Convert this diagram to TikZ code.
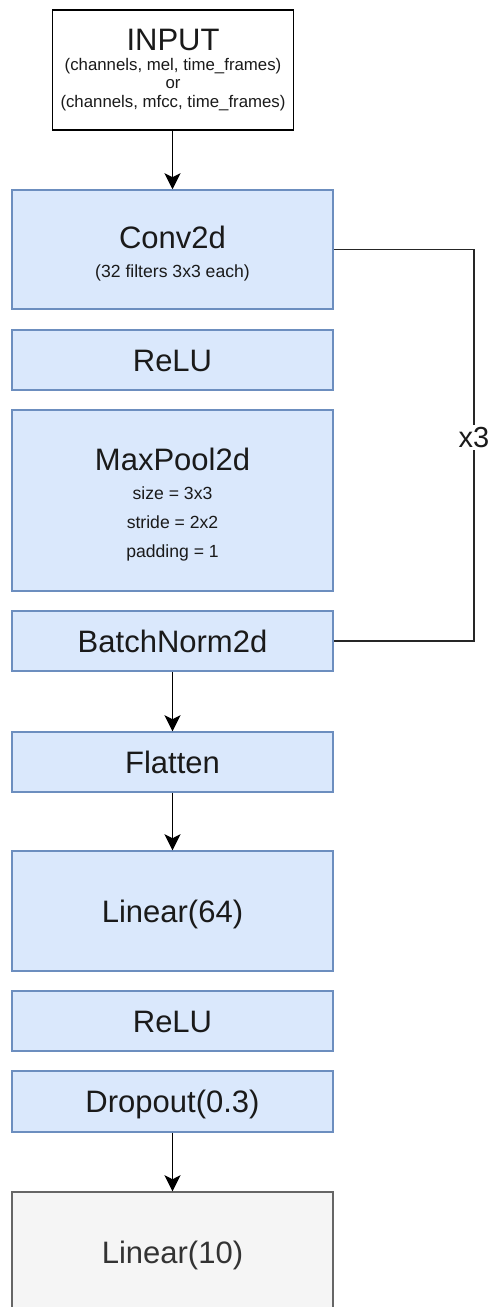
\documentclass[tikz,border=0pt]{standalone}
\usepackage{fontspec}
\setmainfont{Liberation Sans}
\usetikzlibrary{arrows.meta}
\definecolor{bfill}{HTML}{DAE8FC}
\definecolor{bdraw}{HTML}{6C8EBF}
\definecolor{gfill}{HTML}{F5F5F5}
\definecolor{gdraw}{HTML}{666666}
\definecolor{gtext}{HTML}{333333}
\definecolor{txt}{HTML}{1A1A1A}
\begin{document}
\begin{tikzpicture}[x=1pt,y=-1pt,
  blk/.style={draw=bdraw,fill=bfill,line width=1.5pt,minimum width=321pt,inner sep=0pt,
    text=txt,font=\fontsize{31}{31}\selectfont,text height=22pt,text depth=0pt},
  inbox/.style={draw=black,fill=white,line width=1.5pt,minimum width=241pt,minimum height=120pt,inner sep=0pt},
  outbox/.style={draw=gdraw,fill=gfill,line width=1.5pt,minimum width=321pt,inner sep=0pt,
    text=gtext,font=\fontsize{31}{31}\selectfont,text height=22pt,text depth=0pt},
  big/.style={anchor=base,inner sep=0pt,text=txt,font=\fontsize{31}{31}\selectfont},
  small/.style={anchor=base,inner sep=0pt,text=txt,font=\fontsize{17.6}{17.6}\selectfont},
  tiny/.style={anchor=base,inner sep=0pt,text=txt,font=\fontsize{16.8}{16.8}\selectfont},
  arr/.style={draw=black,line width=1.5pt,-{Stealth[length=16pt,width=16pt,inset=4pt]}},
  loopln/.style={draw=black!85,line width=1.5pt},
  lbl/.style={fill=white,inner sep=2pt,text=txt,font=\fontsize{29}{29}\selectfont}
]
\clip (0,0) rectangle (491,1307);
\fill[white] (0,0) rectangle (491,1307);

% input
\node[inbox] (input) at (173,70) {};
\node[big] (inT) at (173,50) {INPUT};
\node[tiny] (inA) at (173,70) {(channels, mel, time\_frames)};
\node[tiny] (inB) at (173,88.5) {or};
\node[tiny] (inC) at (173,107) {(channels, mfcc, time\_frames)};

% conv
\node[blk,minimum height=119pt] (conv) at (172.5,249.5) {};
\node[big] (convT) at (172.5,248) {Conv2d};
\node[small] (convS) at (172.5,277) {(32 filters 3x3 each)};

\node[blk,minimum height=60pt] (relu1) at (172.5,360) {ReLU};

\node[blk,minimum height=181pt] (pool) at (172.5,500.5) {};
\node[big] (poolT) at (172.5,470) {MaxPool2d};
\node[small] (poolA) at (172.5,499) {size = 3x3};
\node[small] (poolB) at (172.5,528) {stride = 2x2};
\node[small] (poolC) at (172.5,557) {padding = 1};

\node[blk,minimum height=60pt] (bn) at (172.5,641) {BatchNorm2d};
\node[blk,minimum height=60pt] (flat) at (172.5,762) {Flatten};
\node[blk,minimum height=120pt] (lin64) at (172.5,911) {Linear(64)};
\node[blk,minimum height=60pt] (relu2) at (172.5,1021) {ReLU};
\node[blk,minimum height=61pt] (drop) at (172.5,1101.5) {Dropout(0.3)};
\node[outbox,minimum height=120pt] (lin10) at (172.5,1252) {Linear(10)};

% connectors
\draw[arr] (input.south -| conv.north) -- (conv.north);
\draw[arr] (bn.south) -- (flat.north);
\draw[arr] (flat.south) -- (lin64.north);
\draw[arr] (drop.south) -- (lin10.north);

\coordinate (lx) at (474,0);
\draw[loopln] (conv.east) -- (conv.east -| lx) -- node[lbl,pos=0.48] (rep) {x3} (bn.east -| lx) -- (bn.east);
\end{tikzpicture}
\end{document}
